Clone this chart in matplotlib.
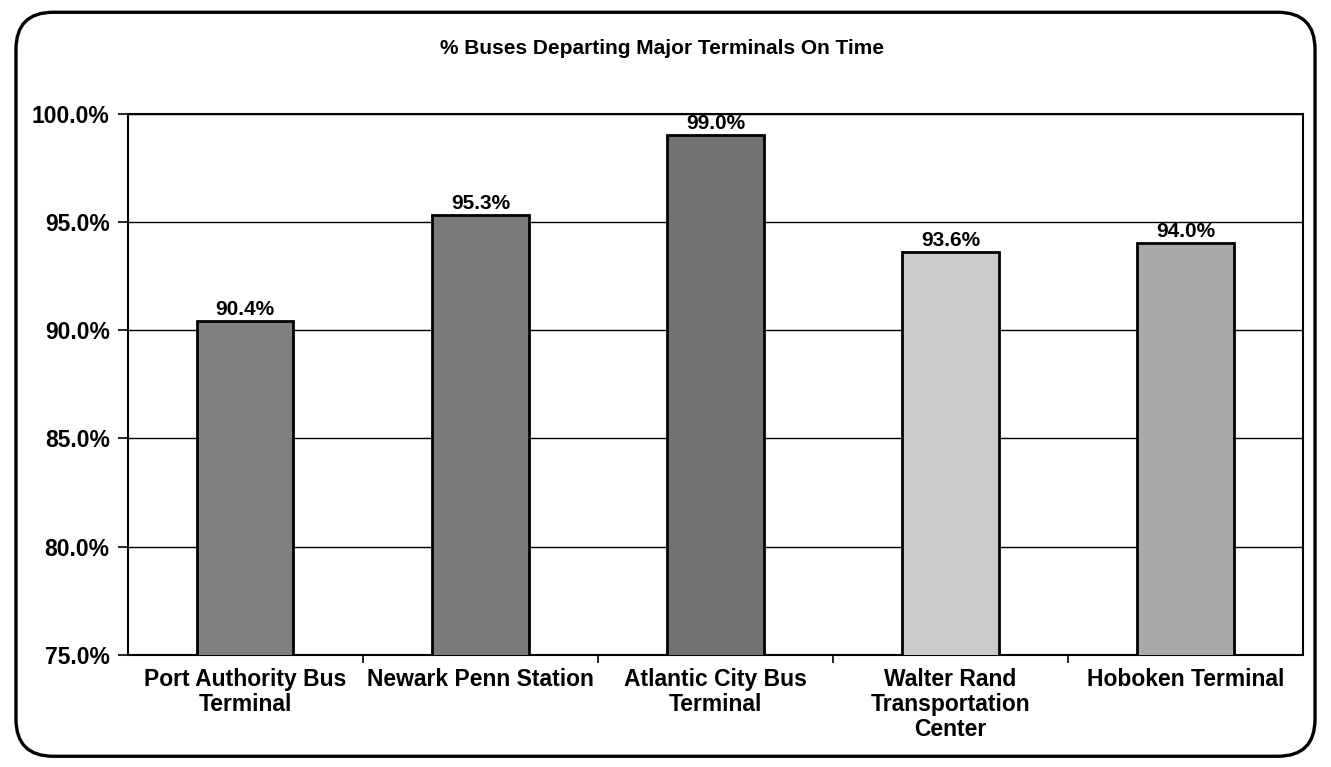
import matplotlib.pyplot as plt
from matplotlib.patches import FancyBboxPatch
from matplotlib.ticker import FuncFormatter, FixedLocator

plt.rcParams['font.family'] = ['Liberation Sans', 'DejaVu Sans']

# Data
terminals = ["Port Authority Bus\nTerminal", "Newark Penn Station",
             "Atlantic City Bus\nTerminal", "Walter Rand\nTransportation\nCenter",
             "Hoboken Terminal"]
on_time_pct = [90.4, 95.3, 99.0, 93.6, 94.0]
bar_colors = ["#7f7f7f", "#7b7b7b", "#727272", "#cbcbcb", "#a9a9a9"]
y_ticks = [75, 80, 85, 90, 95, 100]

fig = plt.figure(figsize=(13.31, 7.67), dpi=100)

# rounded frame around the whole chart
frame = FancyBboxPatch((0.012, 0.014), 0.976, 0.97,
                       boxstyle="round,pad=0,rounding_size=0.028",
                       transform=fig.transFigure, fill=False,
                       edgecolor="black", linewidth=2.4, mutation_aspect=1.73)
fig.patches.append(frame)

ax = fig.add_axes([0.096, 0.146, 0.883, 0.706])
x = range(len(terminals))
bars = ax.bar(x, on_time_pct, width=0.41, color=bar_colors,
              edgecolor="black", linewidth=2, zorder=3)

for i, v in enumerate(on_time_pct):
    ax.text(i, v + 0.12, f"{v:.1f}%", ha="center", va="bottom",
            fontsize=15, fontweight="bold", zorder=4)

ax.set_ylim(75, 100)
ax.set_xlim(-0.5, len(terminals) - 0.5)
ax.set_yticks(y_ticks)
ax.yaxis.set_major_formatter(FuncFormatter(lambda v, p: f"{v:.1f}%"))
ax.yaxis.grid(True, color="black", linewidth=1)
ax.set_axisbelow(True)

ax.set_xticks(list(x))
ax.set_xticklabels(terminals, fontsize=16.5, fontweight="bold", linespacing=1.12)
ax.xaxis.set_minor_locator(FixedLocator([i + 0.5 for i in range(len(terminals) - 1)]))
ax.tick_params(axis="x", which="major", length=0, pad=9)
ax.tick_params(axis="x", which="minor", length=6, width=1.2, direction="out")
ax.tick_params(axis="y", length=7, width=1.2, direction="out", labelsize=16.5, pad=6)
for lbl in ax.get_yticklabels():
    lbl.set_fontweight("bold")

for s in ax.spines.values():
    s.set_linewidth(1.5)
    s.set_color("black")

fig.text(0.497, 0.937, "% Buses Departing Major Terminals On Time",
         ha="center", va="center", fontsize=15, fontweight="bold")

fig.savefig("out.png", dpi=100)
